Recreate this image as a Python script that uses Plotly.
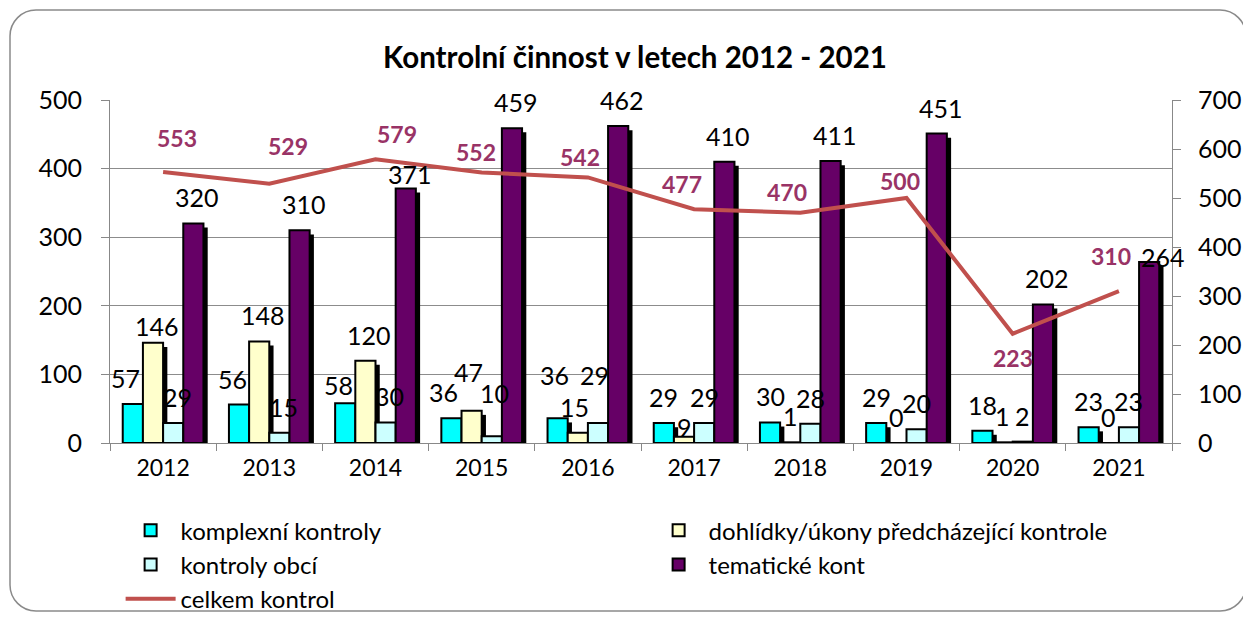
import plotly.graph_objects as go

years = ["2012", "2013", "2014", "2015", "2016", "2017", "2018", "2019", "2020", "2021"]
komplexni = [57, 56, 58, 36, 36, 29, 30, 29, 18, 23]
dohlidky = [146, 148, 120, 47, 15, 9, 1, 0, 1, 0]
obci = [29, 15, 30, 10, 29, 29, 28, 20, 2, 23]
tematicke = [320, 310, 371, 459, 462, 410, 411, 451, 202, 264]
celkem = [553, 529, 579, 552, 542, 477, 470, 500, 223, 310]

series_names = ["komplexní kontroly", "dohlídky/úkony předcházející kontrole",
                "kontroly obcí", "tematické kont"]
series_vals = [komplexni, dohlidky, obci, tematicke]
colors = ["#00FFFF", "#FFFFCC", "#CCFFFF", "#660066"]

# layout geometry (pixels; the page adds an 8px body margin)
W, H = 1235, 604
L, R, T, B = 102, 71, 92, 169
PW, PH = W - L - R, H - T - B

bw = 0.19
offsets = [-0.38, -0.19, 0.0, 0.19]

fig = go.Figure()

# shadows
for vals, off in zip(series_vals, offsets):
    fig.add_trace(go.Bar(
        x=years, y=[max(v - 6, 0) for v in vals], width=bw, offset=off + 0.04,
        marker=dict(color="black", line=dict(width=0)),
        showlegend=False, hoverinfo="skip", yaxis="y"))

for name, vals, off, col in zip(series_names, series_vals, offsets, colors):
    fig.add_trace(go.Bar(
        x=years, y=vals, width=bw, offset=off, name=name,
        marker=dict(color=col, line=dict(color="black", width=2)),
        yaxis="y"))

fig.add_trace(go.Scatter(
    x=years, y=celkem, mode="lines", name="celkem kontrol",
    line=dict(color="#C0504D", width=4), yaxis="y2"))

# data label placement tweaks (pixels)
special_dx = {(0, 3): -8, (2, 3): 3}

def label_dx(si, i):
    if (si, i) in special_dx:
        return special_dx[(si, i)]
    if si == 3:
        return 14 if i == 9 else 4
    if i <= 2:
        return -7 if si == 0 else 4
    if i <= 4:
        return -3
    return 0

special_dy = {(0, 2): 18, (1, 0): 17, (1, 5): 10, (3, 2): 14, (3, 9): 5,
              (1, 3): 39, (2, 3): 43, (0, 4): 43, (2, 4): 48}
annotations = []
for si, (vals, off) in enumerate(zip(series_vals, offsets)):
    for i, v in enumerate(vals):
        cx = i + off + bw / 2
        annotations.append(dict(
            x=cx, y=v, xref="x", yref="y", text=str(v), showarrow=False,
            xanchor="center", yanchor="middle",
            xshift=label_dx(si, i),
            yshift=special_dy.get((si, i), 26),
            font=dict(family="Lato", size=25, color="black")))

line_dx = [14, 19, 21, -6, -8, -12, -13, -7, 0, -8]
line_dy = [34, 38, 25, 21, 20, 25, 21, 17, -24, 35]
for i, v in enumerate(celkem):
    annotations.append(dict(
        x=i, y=v, xref="x", yref="y2", text="<b>%d</b>" % v, showarrow=False,
        xanchor="center", yanchor="middle", xshift=line_dx[i], yshift=line_dy[i],
        font=dict(family="Lato", size=23, color="#993366")))

# rounded chart-area border
def px_x(p):
    return (p - L) / PW

def px_y(p):
    return (H - B - p) / PH

x0, y0, x1, y1, r = 2, 2, 1238, 603, 26
k = 0.45
path = (
    f"M {px_x(x0 + r)} {px_y(y0)} L {px_x(x1 - r)} {px_y(y0)} "
    f"C {px_x(x1 - r * k)} {px_y(y0)} {px_x(x1)} {px_y(y0 + r * k)} {px_x(x1)} {px_y(y0 + r)} "
    f"L {px_x(x1)} {px_y(y1 - r)} "
    f"C {px_x(x1)} {px_y(y1 - r * k)} {px_x(x1 - r * k)} {px_y(y1)} {px_x(x1 - r)} {px_y(y1)} "
    f"L {px_x(x0 + r)} {px_y(y1)} "
    f"C {px_x(x0 + r * k)} {px_y(y1)} {px_x(x0)} {px_y(y1 - r * k)} {px_x(x0)} {px_y(y1 - r)} "
    f"L {px_x(x0)} {px_y(y0 + r)} "
    f"C {px_x(x0)} {px_y(y0 + r * k)} {px_x(x0 + r * k)} {px_y(y0)} {px_x(x0 + r)} {px_y(y0)} Z"
)

fig.update_layout(
    width=W, height=H,
    margin=dict(l=L, r=R, t=T, b=B, pad=0, autoexpand=False),
    paper_bgcolor="white", plot_bgcolor="white",
    barmode="overlay",
    font=dict(family="Lato", size=24, color="black"),
    title=dict(text="<b>Kontrolní činnost v letech 2012 - 2021</b>",
               x=627 / W, xanchor="center", y=1 - 50 / H, yanchor="middle",
               font=dict(family="Lato", size=29.5, color="black")),
    xaxis=dict(type="category", categoryorder="array", categoryarray=years,
               range=[-0.5, 9.5], showline=True, linecolor="#888888", linewidth=1,
               ticks="outside", tickson="boundaries", ticklen=7, tickcolor="#888888",
               showgrid=False, ticklabelstandoff=4,
               tickfont=dict(family="Lato", size=23)),
    yaxis=dict(range=[0, 500], dtick=100, showline=True, linecolor="#888888",
               ticks="outside", ticklen=8, tickcolor="#888888",
               showgrid=True, gridcolor="#8C8C8C", gridwidth=1,
               zeroline=False, ticklabelstandoff=14,
               tickfont=dict(family="Lato", size=25)),
    yaxis2=dict(range=[0, 700], dtick=100, overlaying="y", side="right",
                showline=True, linecolor="#888888", ticks="outside", ticklen=8,
                tickcolor="#888888", showgrid=False, zeroline=False,
                ticklabelstandoff=12, tickfont=dict(family="Lato", size=25)),
    legend=dict(orientation="h", x=0.01, xanchor="left", y=-0.19, yanchor="top",
                entrywidth=463, entrywidthmode="pixels", traceorder="normal",
                font=dict(family="Lato", size=24), itemwidth=50,
                bgcolor="rgba(0,0,0,0)"),
    annotations=annotations,
    shapes=[dict(type="path", path=path, xref="paper", yref="paper",
                 line=dict(color="#8A8A8A", width=1.5), layer="below")],
    showlegend=True,
)

fig.write_html("out.html")
